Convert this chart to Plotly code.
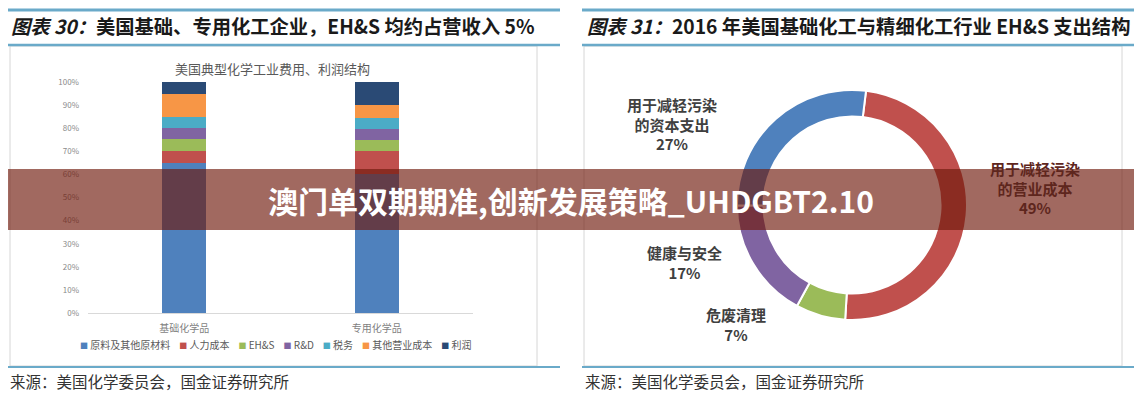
import plotly.graph_objects as go

W, H = 1142, 400
OFF = 8  # the page body adds an 8px margin around the figure

# left panel: stacked bars
categories = ["基础化学品", "专用化学品"]
series_names = ["原料及其他原材料", "人力成本", "EH&S", "R&D", "税务", "其他营业成本", "利润"]
basic_values = [65, 5, 5.5, 4.5, 5, 10, 5]
special_values = [60, 10, 5, 4.5, 5, 5.5, 10]
y_ticks = [0, 10, 20, 30, 40, 50, 60, 70, 80, 90, 100]

# right panel: donut
pie_labels = ["用于减轻污染<br>的营业成本", "危废清理", "健康与安全", "用于减轻污染<br>的资本支出"]
pie_values = [49, 7, 17, 27]

bar_colors = ["#4F81BD", "#C0504D", "#9BBB59", "#8064A2", "#4BACC6", "#F79646", "#2A4A75"]
pie_colors = ["#C0504D", "#9BBB59", "#8064A2", "#4F81BD"]

FONT = "Noto Sans CJK SC"


def px(v):
    return (v - OFF) / W


def py(v):
    return 1 - (v - OFF) / H


fig = go.Figure()

for i, name in enumerate(series_names):
    fig.add_trace(
        go.Bar(
            x=categories,
            y=[basic_values[i], special_values[i]],
            name=name,
            marker={"color": bar_colors[i], "line": {"width": 0}},
            width=0.23,
            showlegend=False,
        )
    )

fig.add_trace(
    go.Pie(
        labels=[l.replace("<br>", "") for l in pie_labels],
        values=pie_values,
        hole=0.77,
        sort=False,
        direction="clockwise",
        rotation=7,
        marker={"colors": pie_colors, "line": {"color": "white", "width": 2}},
        textinfo="none",
        showlegend=False,
        domain={"x": [px(737), px(967)], "y": [py(320), py(90)]},
    )
)

shapes = []
line_blue = "#6AAAC9"
for x0, x1, bx0, bx1 in [(6, 560, 10, 537), (582, 1134, 584, 1122)]:
    shapes.append(dict(type="line", xref="paper", yref="paper", x0=px(x0), x1=px(x1),
                       y0=py(10), y1=py(10), line={"color": line_blue, "width": 3}))
    shapes.append(dict(type="rect", xref="paper", yref="paper", x0=px(bx0), x1=px(bx1),
                       y0=py(366), y1=py(46), line={"color": "#d6d6d6", "width": 1},
                       fillcolor="rgba(0,0,0,0)", layer="below"))
    shapes.append(dict(type="line", xref="paper", yref="paper", x0=px(x0), x1=px(x1),
                       y0=py(45), y1=py(45), line={"color": line_blue, "width": 2.5}))
    shapes.append(dict(type="line", xref="paper", yref="paper", x0=px(x0), x1=px(x1),
                       y0=py(367), y1=py(367), line={"color": line_blue, "width": 2}))

# banner overlay
shapes.append(dict(type="rect", xref="paper", yref="paper", x0=px(0), x1=px(W),
                   y0=py(230), y1=py(169), line={"width": 0},
                   fillcolor="rgba(110,25,10,0.65)", layer="above"))

annotations = [
    dict(text="<b><i>图表 30：</i>美国基础、专用化工企业，EH&S 均约占营收入 5%</b>",
         x=px(9), y=py(26), xanchor="left", yanchor="middle",
         font={"size": 19.3, "color": "#1a1a1a", "family": FONT}),
    dict(text="<b><i>图表 31：</i>2016 年美国基础化工与精细化工行业 EH&S 支出结构</b>",
         x=px(585), y=py(26), xanchor="left", yanchor="middle",
         font={"size": 19.3, "color": "#1a1a1a", "family": FONT}),
    dict(text="美国典型化学工业费用、利润结构", x=px(272), y=py(69),
         xanchor="center", yanchor="middle",
         font={"size": 13, "color": "#595959", "family": FONT}),
    dict(text="来源：美国化学委员会，国金证券研究所", x=px(8), y=py(381),
         xanchor="left", yanchor="middle",
         font={"size": 15.5, "color": "#333333", "family": FONT}),
    dict(text="来源：美国化学委员会，国金证券研究所", x=px(583), y=py(381),
         xanchor="left", yanchor="middle",
         font={"size": 15.5, "color": "#333333", "family": FONT}),
]

# bar legend as one compact line of coloured squares
legend_parts = [
    f"<span style='color:{c};font-size:8px'>■</span>&nbsp;{n}"
    for n, c in zip(series_names, bar_colors)
]
annotations.append(
    dict(text="&nbsp;&nbsp;&nbsp;&nbsp;".join(legend_parts), x=px(275), y=py(344),
         xanchor="center", yanchor="middle",
         font={"size": 10, "color": "#595959", "family": FONT})
)

# donut labels (the 49% label sits under the banner, so it is drawn dimmed)
label_pos = [(1035, 188), (736, 324), (684, 262), (672, 124)]
for lab, val, (lx, ly) in zip(pie_labels, pie_values, label_pos):
    color = "#404040"
    if 169 < ly < 230:
        color = "#5E261D"
    annotations.append(
        dict(text=f"<b>{lab}<br>{val}%</b>", x=px(lx), y=py(ly),
             xanchor="center", yanchor="middle",
             font={"size": 15, "color": color, "family": FONT})
    )

annotations.append(
    dict(text="<b>澳门单双期期准,创新发展策略_UHDGBT2.10</b>", x=px(571), y=py(200),
         xanchor="center", yanchor="middle",
         font={"size": 30, "color": "white", "family": FONT})
)
for a in annotations:
    a.setdefault("xref", "paper")
    a.setdefault("yref", "paper")
    a.setdefault("showarrow", False)

fig.update_layout(
    width=W,
    height=H,
    margin={"l": 0, "r": 0, "t": 0, "b": 0, "autoexpand": False},
    paper_bgcolor="white",
    plot_bgcolor="white",
    barmode="stack",
    bargap=0,
    font={"family": FONT},
    showlegend=False,
    xaxis={
        "domain": [px(88), px(473)],
        "automargin": False,
        "showline": True,
        "linecolor": "#d9d9d9",
        "linewidth": 1,
        "ticks": "",
        "ticklabelstandoff": 6,
        "tickfont": {"size": 10, "color": "#7f7f7f"},
        "showgrid": False,
    },
    yaxis={
        "domain": [py(313), py(82)],
        "automargin": False,
        "range": [0, 100],
        "tickvals": y_ticks,
        "ticktext": [f"{v}%" for v in y_ticks],
        "ticklabelstandoff": 8,
        "showgrid": False,
        "zeroline": False,
        "showline": False,
        "tickfont": {"size": 8, "color": "#8a8a8a"},
    },
    shapes=shapes,
    annotations=annotations,
)

fig.write_html("out.html")
